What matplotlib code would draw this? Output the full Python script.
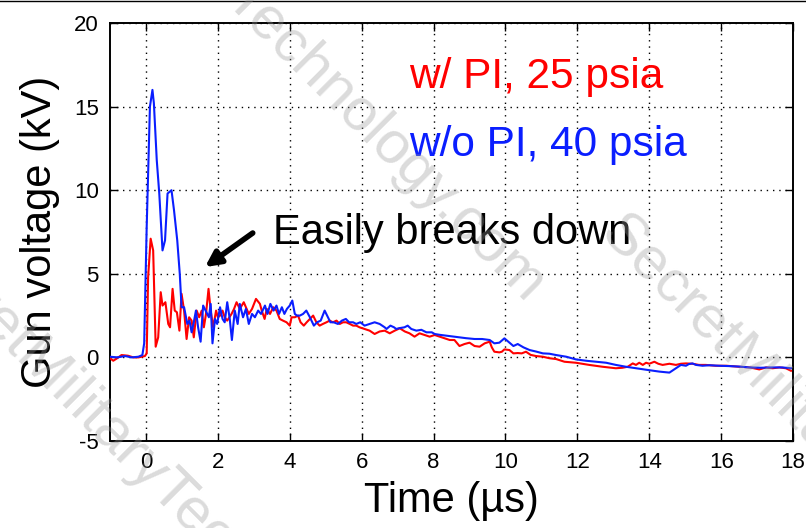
import matplotlib
matplotlib.use("Agg")
import matplotlib.pyplot as plt
from matplotlib.lines import Line2D

# ---- data ----
blue_t = [-1.0, -0.8, -0.58, -0.4, -0.21, -0.1, -0.05, 0.02, 0.11, 0.18, 0.22, 0.30, 0.37, 0.46, 0.53,
          0.60, 0.71, 0.78, 0.87, 0.94, 0.99, 1.06, 1.15, 1.21, 1.27, 1.33, 1.39, 1.45, 1.52, 1.59,
          1.66, 1.75, 1.80, 1.85, 1.92, 1.98, 2.06, 2.13, 2.19, 2.26, 2.33, 2.39, 2.47, 2.55, 2.61,
          2.70, 2.78, 2.86, 2.95, 3.03, 3.12, 3.20, 3.31, 3.38, 3.46, 3.55, 3.63, 3.70, 3.78, 3.85,
          3.92, 4.00, 4.07, 4.14, 4.20, 4.28, 4.37, 4.46, 4.56, 4.67, 4.76, 4.86, 4.97, 5.06, 5.13,
          5.22, 5.34, 5.45, 5.56, 5.65, 5.76, 5.85, 5.96, 6.08, 6.22, 6.36, 6.50, 6.64, 6.69, 6.80,
          6.90, 6.96, 7.05, 7.19, 7.28, 7.38, 7.52, 7.66, 7.80, 7.95, 8.03, 8.17, 8.35, 8.55, 8.72,
          8.90, 9.14, 9.35, 9.56, 9.69, 9.83, 9.97, 10.11, 10.22, 10.34, 10.50, 10.67, 10.85, 11.04,
          11.22, 11.41, 11.69, 11.96, 12.24, 12.52, 12.80, 13.07, 13.35, 13.63, 13.95, 14.28, 14.56,
          14.74, 14.88, 15.02, 15.10, 15.20, 15.30, 15.48, 15.67, 15.94, 16.22, 16.50, 16.78, 17.10,
          17.43, 17.70, 17.94]
blue_v = [0.04, 0.0, 0.08, 0.0, 0.04, 0.14, 0.84, 7.8, 15.0, 16.0, 15.2, 11.8, 9.8, 6.4, 7.0,
          9.8, 10.0, 8.8, 7.0, 5.0, 3.0, 3.0, 2.0, 2.2, 1.5, 2.1, 2.8, 1.8, 0.94, 3.1,
          2.8, 2.4, 3.2, 0.84, 2.3, 2.0, 3.0, 2.3, 2.1, 3.3, 2.3, 1.04, 2.8, 2.0, 3.2,
          2.4, 2.9, 2.0, 2.6, 2.4, 2.8, 2.6, 3.1, 2.6, 3.2, 2.8, 3.1, 2.6, 3.0, 2.6,
          2.9, 3.1, 3.4, 2.6, 2.5, 2.5, 2.6, 2.8, 2.4, 1.9, 2.1, 2.2, 2.8, 2.4, 2.1,
          2.1, 2.0, 2.2, 2.3, 2.1, 2.1, 2.0, 2.1, 1.9, 2.0, 2.1, 2.0, 1.8, 1.7, 1.9,
          1.8, 1.7, 1.75, 1.8, 1.9, 1.7, 1.6, 1.65, 1.5, 1.5, 1.4, 1.35, 1.3, 1.25, 1.2,
          1.15, 1.1, 1.1, 1.04, 0.84, 0.88, 1.14, 0.88, 0.68, 0.8, 0.6, 0.44, 0.35, 0.24,
          0.22, 0.14, 0.04, -0.12, -0.2, -0.26, -0.32, -0.45, -0.56, -0.65, -0.75, -0.85, -0.91,
          -0.65, -0.45, -0.5, -0.4, -0.36, -0.45, -0.5, -0.47, -0.5, -0.52, -0.55, -0.6, -0.62,
          -0.6, -0.6, -0.65]

red_t = [-1.0, -0.91, -0.8, -0.68, -0.5, -0.35, -0.21, -0.03, 0.02, 0.06, 0.13, 0.20, 0.27, 0.34,
         0.41, 0.46, 0.54, 0.62, 0.67, 0.74, 0.80, 0.86, 0.93, 0.99, 1.06, 1.13, 1.20, 1.27, 1.33,
         1.41, 1.48, 1.55, 1.61, 1.67, 1.74, 1.80, 1.87, 1.95, 2.00, 2.06, 2.13, 2.19, 2.26, 2.38,
         2.45, 2.52, 2.61, 2.72, 2.86, 2.95, 3.06, 3.17, 3.22, 3.30, 3.36, 3.45, 3.54, 3.63, 3.72,
         3.81, 3.91, 4.00, 4.05, 4.14, 4.23, 4.30, 4.39, 4.47, 4.56, 4.65, 4.74, 4.83, 4.92, 5.02,
         5.11, 5.20, 5.30, 5.39, 5.48, 5.57, 5.67, 5.76, 5.85, 5.94, 6.08, 6.22, 6.36, 6.50, 6.64,
         6.78, 6.92, 7.06, 7.20, 7.33, 7.47, 7.61, 7.75, 7.89, 8.03, 8.17, 8.31, 8.45, 8.58, 8.72,
         8.86, 9.00, 9.14, 9.28, 9.42, 9.56, 9.62, 9.69, 9.83, 9.90, 9.97, 10.11, 10.22, 10.34,
         10.45, 10.57, 10.70, 10.85, 11.04, 11.22, 11.41, 11.64, 11.96, 12.33, 12.70, 13.07, 13.25,
         13.40, 13.54, 13.63, 13.72, 13.82, 13.91, 14.00, 14.14, 14.25, 14.37, 14.56, 14.74, 14.88,
         15.02, 15.20, 15.38, 15.57, 15.85, 16.15, 16.50, 16.80, 17.06, 17.25, 17.43, 17.62, 17.80,
         17.94]
red_v = [-0.05, -0.2, -0.05, 0.14, 0.1, 0.0, 0.0, 0.08, 0.24, 4.8, 7.1, 6.4, 0.64, 1.2,
         3.9, 3.1, 3.3, 2.0, 1.8, 4.1, 2.8, 2.7, 1.6, 3.8, 2.8, 1.1, 2.4, 2.2, 1.2,
         2.8, 2.4, 2.8, 1.8, 2.6, 4.1, 2.8, 1.8, 2.8, 2.4, 2.5, 2.8, 2.4, 2.2, 2.6,
         2.9, 3.3, 2.9, 3.3, 2.6, 2.9, 3.5, 3.2, 2.8, 2.3, 2.9, 2.6, 3.0, 2.8, 2.3,
         2.2, 2.1, 1.9, 2.4, 2.4, 2.5, 2.1, 1.9, 2.1, 2.3, 2.5, 2.1, 1.9, 2.0, 2.1,
         2.2, 2.1, 2.2, 2.0, 2.1, 2.1, 2.0, 1.9, 1.9, 1.8, 1.7, 1.6, 1.4, 1.55, 1.6,
         1.44, 1.6, 1.74, 1.55, 1.44, 1.24, 1.44, 1.34, 1.24, 1.34, 1.24, 1.14, 1.04, 1.04, 0.68,
         0.8, 0.88, 0.68, 0.64, 0.84, 0.94, 0.6, 0.34, 0.3, 0.34, 0.48, 0.44, 0.24, 0.26,
         0.24, 0.34, 0.15, 0.08, 0.04, -0.05, -0.1, -0.26, -0.32, -0.45, -0.56, -0.65, -0.62,
         -0.56, -0.36, -0.45, -0.32, -0.45, -0.32, -0.38, -0.26, -0.38, -0.45, -0.38, -0.45, -0.38,
         -0.36, -0.38, -0.45, -0.45, -0.5, -0.5, -0.56, -0.6, -0.72, -0.6, -0.65, -0.6, -0.65,
         -0.8]

x_ticks = [0, 2, 4, 6, 8, 10, 12, 14, 16, 18]
y_ticks = [-5, 0, 5, 10, 15, 20]
label_red = "w/ PI, 25 psia"
label_blue = "w/o PI, 40 psia"
annotation = "Easily breaks down"
watermark = "SecretMilitaryTechnology.com"

RED = "#ff0000"
BLUE = "#0a1eff"

plt.rcParams['font.family'] = ['Liberation Sans', 'DejaVu Sans']
plt.rcParams['axes.unicode_minus'] = False

fig = plt.figure(figsize=(8.06, 5.28), dpi=100)
ax = fig.add_axes([0.1365, 0.1648, 0.8475, 0.7916])

ax.plot(red_t, red_v, color=RED, lw=1.5, zorder=3)
ax.plot(blue_t, blue_v, color=BLUE, lw=1.5, zorder=4)

ax.set_xlim(-1, 18)
ax.set_ylim(-5, 20)
ax.set_xticks(x_ticks)
ax.set_yticks(y_ticks)
ax.grid(True, color='black', linestyle=(0, (1, 3.5)), linewidth=1.0)
ax.tick_params(direction='in', length=6, width=1, top=True, right=True,
               labelsize=16, pad=8, colors='black')
for s in ax.spines.values():
    s.set_linewidth(1.4)

ax.set_xlabel("Time (\u00b5s)", fontsize=30, labelpad=6)
ax.set_ylabel("Gun voltage (kV)", fontsize=30, labelpad=10)

ax.text(7.33, 16.1, label_red, color=RED, fontsize=30.5, va='baseline', ha='left')
ax.text(7.33, 12.05, label_blue, color=BLUE, fontsize=30.5, va='baseline', ha='left')
ax.text(3.52, 6.8, annotation, color='black', fontsize=30, va='baseline', ha='left')
ax.annotate("", xy=(1.64, 5.4), xytext=(2.97, 7.44),
            arrowprops=dict(arrowstyle='-|>,head_length=0.9,head_width=0.45',
                            color='black', lw=4, shrinkA=0, shrinkB=0))

# watermark
def px2fig(x, y):
    return x / 806.0, 1 - y / 528.0

for (px, py, ha) in [(525, 305, 'right'), (598, 236, 'left'), (-108, 238, 'left')]:
    fx, fy = px2fig(px, py)
    fig.text(fx, fy, watermark, fontsize=43, color='#999999', alpha=0.35,
             rotation=-45, rotation_mode='anchor', ha=ha, va='baseline', zorder=10)

fig.add_artist(Line2D([0, 1], [0.999, 0.999], transform=fig.transFigure, color='black', lw=1))

fig.savefig("out.png", dpi=100)
